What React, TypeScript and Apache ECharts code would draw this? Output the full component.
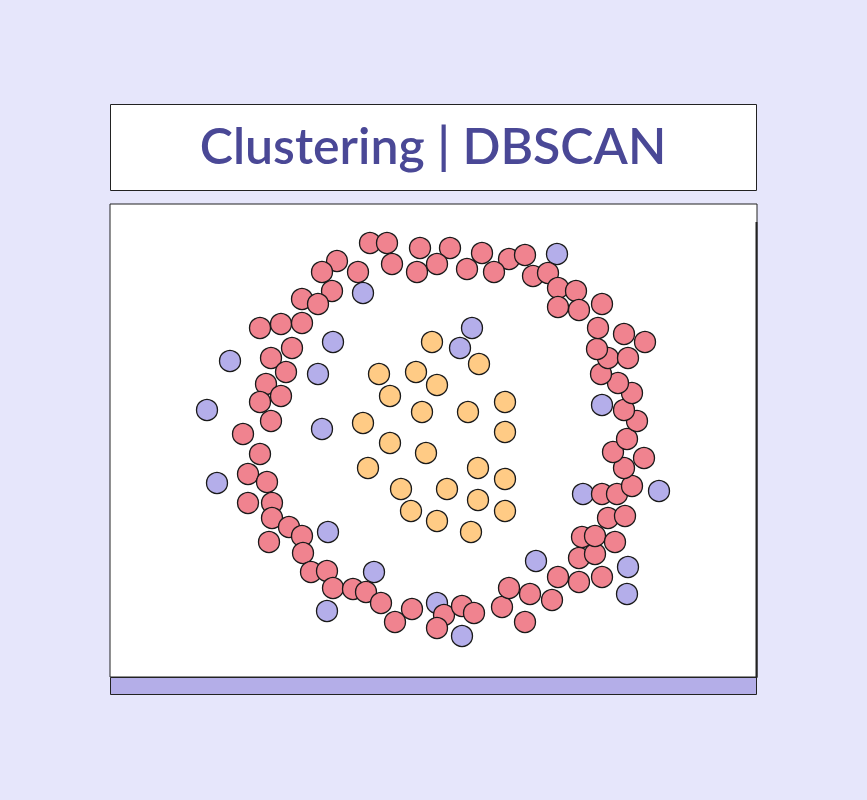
import React, { useEffect, useRef } from "react";
import * as echarts from "echarts";

const TITLE = "Clustering | DBSCAN";

// Outer ring cluster (core points)
const ringCluster: [number, number][] = [
  [-6.3, 19.7], [-4.6, 19.7], [-1.3, 19.2], [1.7, 19.2], [4.9, 18.7], [7.6, 18.1], [9.2, 18.5],
  [-9.6, 17.9], [-11.1, 16.8], [-7.5, 16.8], [-4.1, 17.6], [-1.6, 16.8], [0.4, 17.6], [3.4, 17.1],
  [6.1, 16.8], [10.0, 16.4], [11.5, 16.7], [12.5, 15.2], [14.3, 14.9], [12.5, 13.3], [14.6, 13.0],
  [16.9, 13.6], [-10.1, 14.9], [-13.1, 14.1], [-11.5, 13.6], [-17.3, 11.2], [-15.2, 11.6],
  [-13.1, 11.7], [-14.1, 9.2], [-16.2, 8.2], [-14.7, 6.8], [-16.7, 5.6], [-15.2, 4.4],
  [-17.3, 3.8], [-16.2, 1.9], [-19.0, 0.6], [-17.3, -1.4], [-18.5, -3.4], [-16.6, -4.2],
  [-18.5, -6.3], [-16.1, -6.3], [-16.1, -7.8], [-14.4, -8.7], [-13.1, -9.6], [-16.4, -10.2],
  [-13.0, -11.3], [-12.2, -13.2], [-10.6, -13.1], [-10.0, -14.8], [-8.0, -14.9], [-6.7, -15.2],
  [-5.2, -16.3], [-3.8, -18.2], [-2.1, -16.9], [1.1, -17.5], [2.9, -16.6], [4.1, -17.3],
  [0.4, -18.8], [6.9, -16.7], [7.6, -14.8], [9.7, -15.4], [9.2, -18.2], [11.9, -16.0],
  [12.5, -13.7], [14.6, -14.2], [16.9, -13.7], [14.6, -11.8], [16.2, -11.4], [14.9, -9.7],
  [16.2, -9.6], [18.2, -10.2], [17.5, -7.8], [19.2, -7.6], [16.9, -5.4], [18.4, -5.4],
  [19.9, -4.6], [19.1, -2.8], [21.1, -1.8], [18.0, -1.2], [19.4, 0.1], [20.4, 1.9], [19.1, 3.0],
  [19.9, 4.7], [18.5, 5.7], [16.8, 6.6], [17.5, 8.2], [19.5, 8.2], [16.4, 9.1], [16.5, 11.2],
  [19.1, 10.6], [21.2, 9.8],
];

// Inner blob cluster
const innerCluster: [number, number][] = [
  [-0.1, 9.8], [4.6, 7.6], [-5.4, 6.6], [-1.7, 6.8], [0.4, 5.5], [-4.3, 4.4], [-1.1, 2.8],
  [3.5, 2.8], [7.2, 3.8], [-7.0, 1.7], [7.2, 0.8], [-4.3, -0.3], [-0.7, -1.3], [-6.5, -2.8],
  [4.5, -2.8], [7.2, -3.9], [-3.2, -4.9], [1.4, -4.9], [4.5, -6.0], [-2.2, -7.1], [0.4, -8.1],
  [7.2, -7.1], [3.8, -9.2],
];

// Noise points
const noisePoints: [number, number][] = [
  [12.4, 18.6], [-7.0, 14.7], [3.9, 11.2], [2.7, 9.2], [-10.0, 9.8], [-20.3, 7.9], [-11.5, 6.6],
  [-22.6, 3.0], [-11.1, 1.1], [-21.6, -4.3], [-10.5, -9.2], [-5.9, -13.2], [-10.6, -17.1],
  [0.4, -16.3], [2.9, -19.6], [10.3, -12.1], [16.9, 3.5], [15.0, -5.4], [22.6, -5.1],
  [19.5, -12.7], [19.4, -15.4],
];

const X_RANGE: [number, number] = [-32.3, 32.4];
const Y_RANGE: [number, number] = [-23.7, 23.6];

export default function App() {
  const ref = useRef<HTMLDivElement>(null);
  useEffect(() => {
    const chart = echarts.init(ref.current!, null, { renderer: "svg" });
    const border = { borderColor: "#1a1a1a", borderWidth: 1.3 };
    chart.setOption({
      animation: false,
      backgroundColor: "#E6E6FB",
      grid: {
        left: 110,
        top: 204,
        width: 647,
        height: 473,
        show: true,
        backgroundColor: "#ffffff",
        borderColor: "#222222",
        borderWidth: 1,
      },
      xAxis: {
        type: "value",
        min: X_RANGE[0],
        max: X_RANGE[1],
        show: false,
      },
      yAxis: {
        type: "value",
        min: Y_RANGE[0],
        max: Y_RANGE[1],
        show: false,
      },
      graphic: [
        {
          type: "rect",
          shape: { x: 110.5, y: 104.5, width: 646, height: 86 },
          style: { fill: "#ffffff", stroke: "#222222", lineWidth: 1 },
          z: 0,
        },
        {
          type: "text",
          x: 433,
          y: 145,
          style: {
            text: TITLE,
            fill: "#4A4896",
            font: "600 50px Lato, 'Noto Sans', sans-serif",
            align: "center",
            verticalAlign: "middle",
          },
          z: 1,
        },
        {
          type: "rect",
          shape: { x: 110.5, y: 677.5, width: 646, height: 17 },
          style: { fill: "#B4AEE8", stroke: "#222222", lineWidth: 1 },
          z: 0,
        },
        {
          type: "line",
          shape: { x1: 756.5, y1: 222, x2: 756.5, y2: 678 },
          style: { stroke: "#222222", lineWidth: 2 },
          z: 1,
        },
      ],
      series: [
        {
          type: "scatter",
          data: noisePoints,
          symbolSize: 21,
          itemStyle: { color: "#B4AEEA", opacity: 1, ...border },
          z: 2,
        },
        {
          type: "scatter",
          data: innerCluster,
          symbolSize: 21,
          itemStyle: { color: "#FFCB85", opacity: 1, ...border },
          z: 3,
        },
        {
          type: "scatter",
          data: ringCluster,
          symbolSize: 21,
          itemStyle: { color: "#F0838F", opacity: 1, ...border },
          z: 4,
        },
      ],
    });
    return () => chart.dispose();
  }, []);
  return (
    <div
      ref={ref}
      style={{ position: "fixed", left: 0, top: 0, width: 867, height: 800 }}
    />
  );
}
